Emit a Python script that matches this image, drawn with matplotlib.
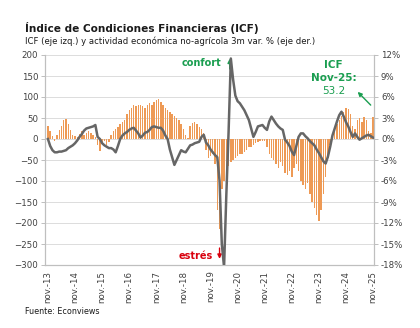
import numpy as np
import matplotlib
matplotlib.use('Agg')
from matplotlib import pyplot as plt
from matplotlib.ticker import FuncFormatter, MultipleLocator

# ICF mensual (eje izq.), nov-13 .. nov-25, un bloque por año (nov..oct)
icf_13 = [30, 20, 8, -5, 10, 22, 32, 45, 48, 35, 22, 10]
icf_14 = [8, 5, 12, 18, 10, 15, 20, 15, 10, 5, -15, -28]
icf_15 = [-10, -5, -15, -8, 10, 20, 25, 28, 35, 40, 45, 60]
icf_16 = [70, 75, 80, 78, 82, 80, 78, 75, 80, 85, 82, 88]
icf_17 = [92, 95, 88, 80, 75, 70, 65, 60, 55, 50, 45, 35]
icf_18 = [25, 10, 2, 30, 38, 40, 35, 28, 25, 15, -25, -45]
icf_19 = [-40, -35, -60, -170, -215, -120, -100, -75, -65, -55, -50, -45]
icf_20 = [-40, -35, -35, -30, -25, -20, -18, -15, -10, -8, -5, -5]
icf_21 = [-5, -20, -35, -45, -50, -60, -70, -55, -65, -80, -85, -75]
icf_22 = [-90, -70, -60, -75, -100, -110, -120, -105, -130, -150, -165, -180]
icf_23 = [-195, -170, -130, -90, -45, -15, 5, 20, 35, 45, 55, 65]
icf_24 = [75, 72, 60, 30, 25, 45, 50, 40, 52, 45, 20, 15, 53.2]

# actividad economica no-agricola, var. 3m % (eje der.)
act_13 = [0, -1.0, -1.6, -1.9, -1.9, -1.8, -1.8, -1.7, -1.6, -1.3, -1.1, -0.9]
act_14 = [-0.6, -0.2, 0.3, 0.7, 1.2, 1.5, 1.6, 1.7, 1.8, 2.0, 0.3, 0.0]
act_15 = [-0.6, -0.9, -1.1, -1.3, -1.3, -1.5, -1.9, -1.0, 0.0, 0.5, 0.8, 1.0]
act_16 = [1.3, 1.5, 1.6, 1.2, 0.8, 0.2, 0.5, 0.9, 1.0, 1.3, 1.7, 1.8]
act_17 = [1.7, 1.6, 1.6, 1.2, 0.5, 0.0, -1.5, -2.6, -3.7, -3.0, -2.3, -1.6]
act_18 = [-1.8, -1.9, -1.4, -0.9, -0.8, -0.6, -0.5, -0.4, 0.3, 0.6, -0.5, -0.9]
act_19 = [-1.5, -1.9, -2.3, -2.6, -6.0, -15.0, -18.3, -8.0, 1.0, 11.5, 8.5, 6.2]
act_20 = [5.4, 5.1, 4.6, 4.1, 3.4, 2.7, 1.5, 0.3, 1.0, 1.8, 1.9, 2.0]
act_21 = [1.6, 1.3, 2.5, 3.2, 2.7, 2.2, 1.8, 1.5, 1.3, -0.1, -0.5, -1.0]
act_22 = [-1.8, -2.3, -1.0, 0.3, 0.8, 0.8, 0.4, 0.1, -0.3, -0.6, -0.9, -1.5]
act_23 = [-2.0, -2.6, -3.2, -3.5, -2.5, -1.1, 0.5, 1.5, 2.5, 3.4, 3.9, 3.2]
act_24 = [2.4, 1.8, 1.0, 0.3, 0.8, 0.3, -0.1, 0.1, 0.3, 0.5, 0.6, 0.4, 0.2]

tick_labels = ['nov.-13', 'nov.-14', 'nov.-15', 'nov.-16', 'nov.-17', 'nov.-18', 'nov.-19',
               'nov.-20', 'nov.-21', 'nov.-22', 'nov.-23', 'nov.-24', 'nov.-25']

icf = icf_13 + icf_14 + icf_15 + icf_16 + icf_17 + icf_18 + icf_19 + icf_20 + icf_21 + icf_22 + icf_23 + icf_24
act = act_13 + act_14 + act_15 + act_16 + act_17 + act_18 + act_19 + act_20 + act_21 + act_22 + act_23 + act_24
x = np.arange(len(icf))

orange = '#EE9A55'
gray_line = '#666666'
green = '#1A9E50'
red = '#D9000D'
txt = '#404040'

fig = plt.figure(figsize=(4.2, 3.28), dpi=100)
ax = fig.add_axes([45/420, 1-265/328, 329/420, 210/328])
ax2 = ax.twinx()

ax.bar(x, icf, width=0.62, color=orange, zorder=2)
ax2.plot(x, act, color=gray_line, linewidth=1.8, zorder=3)

ax.set_xlim(-1.3, 144.4)
ax.set_ylim(-300, 200)
ax2.set_ylim(-18, 12)
ax.yaxis.set_major_locator(MultipleLocator(50))
ax2.yaxis.set_major_locator(MultipleLocator(3))
ax2.yaxis.set_major_formatter(FuncFormatter(lambda v, p: f'{v:.0f}%'))
ax.set_xticks(np.arange(0, len(icf), 12))
ax.set_xticklabels(tick_labels, rotation=90)

ax.grid(axis='y', color='#DCDCDC', linewidth=0.7, zorder=0)
ax.set_axisbelow(True)
for a in (ax, ax2):
    a.spines['top'].set_visible(False)
    for s in ('left', 'right', 'bottom'):
        a.spines[s].set_color('#BFBFBF')
        a.spines[s].set_linewidth(0.8)
    a.tick_params(labelsize=6.2, colors='#BFBFBF', labelcolor=txt, length=3, width=0.7, pad=2)
ax.tick_params(axis='x', length=0, pad=4)

# anotaciones
ax.text(68, 181, 'confort', color=green, fontsize=7, fontweight='bold', ha='center', va='center')
ax.annotate('', xy=(80.5, 198), xytext=(80.5, 160),
            arrowprops=dict(arrowstyle='-|>', color=green, lw=1, mutation_scale=6))
ax.text(65.5, -279, 'estrés', color=red, fontsize=7, fontweight='bold', ha='center', va='center')
ax.annotate('', xy=(76, -292), xytext=(76, -253),
            arrowprops=dict(arrowstyle='-|>', color=red, lw=1, mutation_scale=6))
ax.text(126.5, 176, 'ICF', color=green, fontsize=7.5, fontweight='bold', ha='center', va='center')
ax.text(126.5, 145, 'Nov-25:', color=green, fontsize=7.5, fontweight='bold', ha='center', va='center')
ax.text(126.5, 114, '53.2', color=green, fontsize=7.5, ha='center', va='center')
ax.annotate('', xy=(136.3, 117), xytext=(143.8, 76),
            arrowprops=dict(arrowstyle='-|>', color=green, lw=1, mutation_scale=6))

fig.text(25/420, 1-28/328, 'Índice de Condiciones Financieras (ICF)', fontsize=7.6,
         fontweight='bold', color='#1A1A1A', va='center')
fig.text(25/420, 1-41/328, 'ICF (eje izq.) y actividad económica no-agrícola 3m var. % (eje der.)',
         fontsize=6.1, color='#1A1A1A', va='center')
fig.text(25/420, 1-312/328, 'Fuente: Econviews', fontsize=5.8, color='#1A1A1A', va='center')

fig.savefig('out.png', dpi=100, facecolor='white')
